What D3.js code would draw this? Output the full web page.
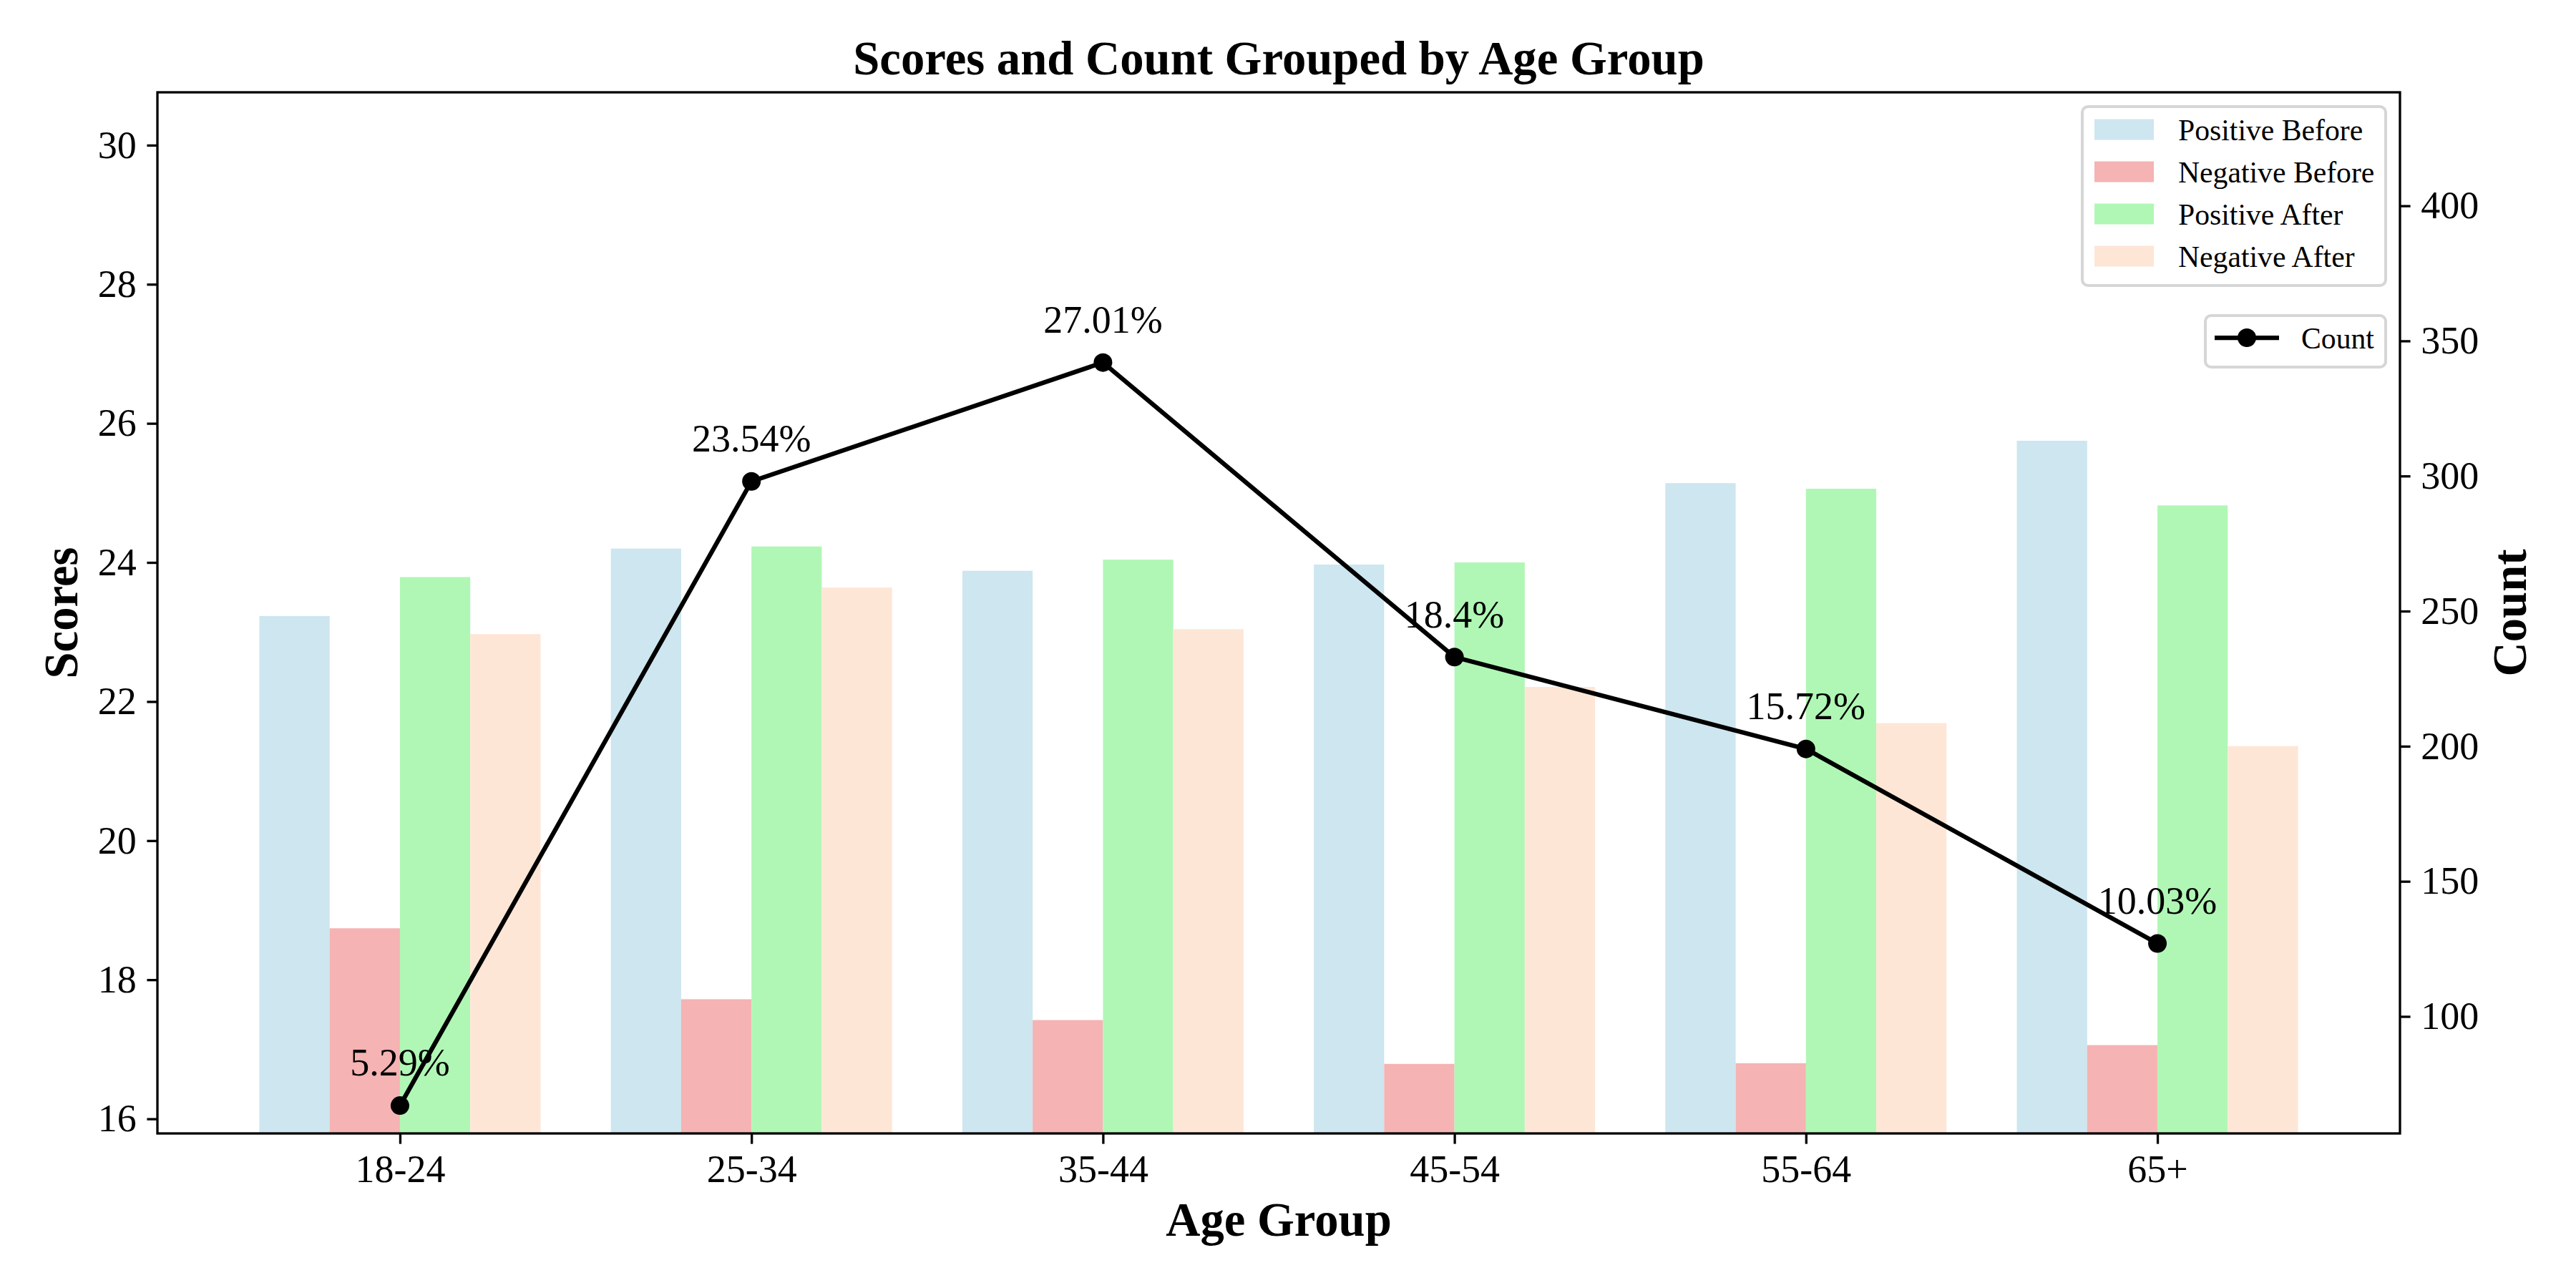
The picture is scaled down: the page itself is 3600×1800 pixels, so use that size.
<!DOCTYPE html>
<html lang="en">
<head>
<meta charset="UTF-8">
<title>Scores and Count Grouped by Age Group</title>
<script src="https://cdn.jsdelivr.net/npm/d3@7/dist/d3.min.js"></script>
<style>
  body { margin: 0; background: #fff; }
  svg { display: block; font-family: "Liberation Serif", "Times New Roman", serif; }
  .tick text { font-size: 54px; fill: #000; }
  .tick line { stroke: #000; stroke-width: 3.3; }
</style>
</head>
<body>
<svg id="chart" width="3600" height="1800"></svg>
<script>
// data
const ageGroups = ["18-24", "25-34", "35-44", "45-54", "55-64", "65+"];
const positiveBefore = [23.23, 24.20, 23.88, 23.97, 25.14, 25.75];
const negativeBefore = [18.74, 17.72, 17.42, 16.79, 16.80, 17.06];
const positiveAfter = [23.79, 24.23, 24.04, 24.00, 25.06, 24.82];
const negativeAfter = [22.97, 23.64, 23.04, 22.21, 21.69, 21.36];
const counts = [67, 298, 342, 233, 199, 127];

const scoreTicks = [16, 18, 20, 22, 24, 26, 28, 30];
const countTicks = [100, 150, 200, 250, 300, 350, 400];

const series = [
  { name: "Positive Before", values: positiveBefore, color: "#cde6ef" },
  { name: "Negative Before", values: negativeBefore, color: "#f5b3b3" },
  { name: "Positive After", values: positiveAfter, color: "#b0f7b5" },
  { name: "Negative After", values: negativeAfter, color: "#fee6d6" }
];

const plot = { left: 220, right: 3354, top: 129, bottom: 1584 };
const barW = 0.2;
const midX = (plot.left + plot.right) / 2;
const midY = (plot.top + plot.bottom) / 2;

const svg = d3.select("#chart");

const x = d3.scaleLinear().domain([-0.69, 5.69]).range([plot.left, plot.right]);
const yL = d3.scaleLinear().domain([15.79, 30.76]).range([plot.bottom, plot.top]);
const yR = d3.scaleLinear().domain([56.7, 442]).range([plot.bottom, plot.top]);

// bars
series.forEach((s, k) => {
  svg.append("g")
    .selectAll("rect")
    .data(s.values)
    .join("rect")
    .attr("x", (d, i) => x(i - 0.4 + k * barW))
    .attr("width", x(barW) - x(0))
    .attr("y", d => yL(d))
    .attr("height", d => plot.bottom - yL(d))
    .attr("fill", s.color);
});

// axes
const axL = svg.append("g")
  .attr("transform", `translate(${plot.left},0)`)
  .call(d3.axisLeft(yL).tickValues(scoreTicks).tickSize(14.6).tickPadding(14.6));
const axR = svg.append("g")
  .attr("transform", `translate(${plot.right},0)`)
  .call(d3.axisRight(yR).tickValues(countTicks).tickSize(14.6).tickPadding(14.6));
const axB = svg.append("g")
  .attr("transform", `translate(0,${plot.bottom})`)
  .call(d3.axisBottom(x).tickValues(d3.range(ageGroups.length))
    .tickFormat(i => ageGroups[i]).tickSize(14.6).tickPadding(14.6));
[axL, axR, axB].forEach(a => {
  a.select(".domain").remove();
  a.attr("font-family", null).attr("font-size", null);
});

// frame
svg.append("rect")
  .attr("x", plot.left).attr("y", plot.top)
  .attr("width", plot.right - plot.left).attr("height", plot.bottom - plot.top)
  .attr("fill", "none").attr("stroke", "#000").attr("stroke-width", 3.3);

// count line
const line = d3.line().x((d, i) => x(i)).y(d => yR(d));
svg.append("path")
  .datum(counts)
  .attr("d", line)
  .attr("fill", "none")
  .attr("stroke", "#000")
  .attr("stroke-width", 6.25);
svg.append("g")
  .selectAll("circle")
  .data(counts)
  .join("circle")
  .attr("cx", (d, i) => x(i))
  .attr("cy", d => yR(d))
  .attr("r", 13)
  .attr("fill", "#000");

// percentage labels
const total = d3.sum(counts);
svg.append("g")
  .selectAll("text")
  .data(counts)
  .join("text")
  .attr("x", (d, i) => x(i))
  .attr("y", d => yR(d) - 41.7)
  .attr("text-anchor", "middle")
  .attr("font-size", 54)
  .text(d => +(d / total * 100).toFixed(2) + "%");

// titles
svg.append("text")
  .attr("x", midX).attr("y", 104)
  .attr("text-anchor", "middle")
  .attr("font-size", 66.7).attr("font-weight", "bold")
  .text("Scores and Count Grouped by Age Group");
svg.append("text")
  .attr("x", midX).attr("y", 1727)
  .attr("text-anchor", "middle")
  .attr("font-size", 66.7).attr("font-weight", "bold")
  .text("Age Group");
svg.append("text")
  .attr("transform", `translate(108,${midY}) rotate(-90)`)
  .attr("text-anchor", "middle")
  .attr("font-size", 66.7).attr("font-weight", "bold")
  .text("Scores");
svg.append("text")
  .attr("transform", `translate(3530,${midY}) rotate(-90)`)
  .attr("text-anchor", "middle")
  .attr("font-size", 66.7).attr("font-weight", "bold")
  .text("Count");

// legend for bars
const leg = svg.append("g");
leg.append("rect")
  .attr("x", 2910).attr("y", 149).attr("width", 424).attr("height", 250)
  .attr("rx", 8)
  .attr("fill", "#fff").attr("fill-opacity", 0.8)
  .attr("stroke", "#d6d6d6").attr("stroke-width", 4);
const rows = leg.selectAll("g.row")
  .data(series)
  .join("g")
  .attr("class", "row")
  .attr("transform", (d, i) => `translate(0,${181 + i * 59})`);
rows.append("rect")
  .attr("x", 2927).attr("y", -14.5).attr("width", 83).attr("height", 29)
  .attr("fill", d => d.color);
rows.append("text")
  .attr("x", 3044).attr("y", 15)
  .attr("font-size", 41.7)
  .text(d => d.name);

// legend for line
const leg2 = svg.append("g");
leg2.append("rect")
  .attr("x", 3082).attr("y", 441).attr("width", 252).attr("height", 72)
  .attr("rx", 8)
  .attr("fill", "#fff").attr("fill-opacity", 0.8)
  .attr("stroke", "#d6d6d6").attr("stroke-width", 4);
leg2.append("line")
  .attr("x1", 3095).attr("x2", 3185).attr("y1", 472).attr("y2", 472)
  .attr("stroke", "#000").attr("stroke-width", 6.25);
leg2.append("circle")
  .attr("cx", 3140).attr("cy", 472).attr("r", 13).attr("fill", "#000");
leg2.append("text")
  .attr("x", 3216).attr("y", 487)
  .attr("font-size", 41.7)
  .text("Count");
</script>
</body>
</html>
